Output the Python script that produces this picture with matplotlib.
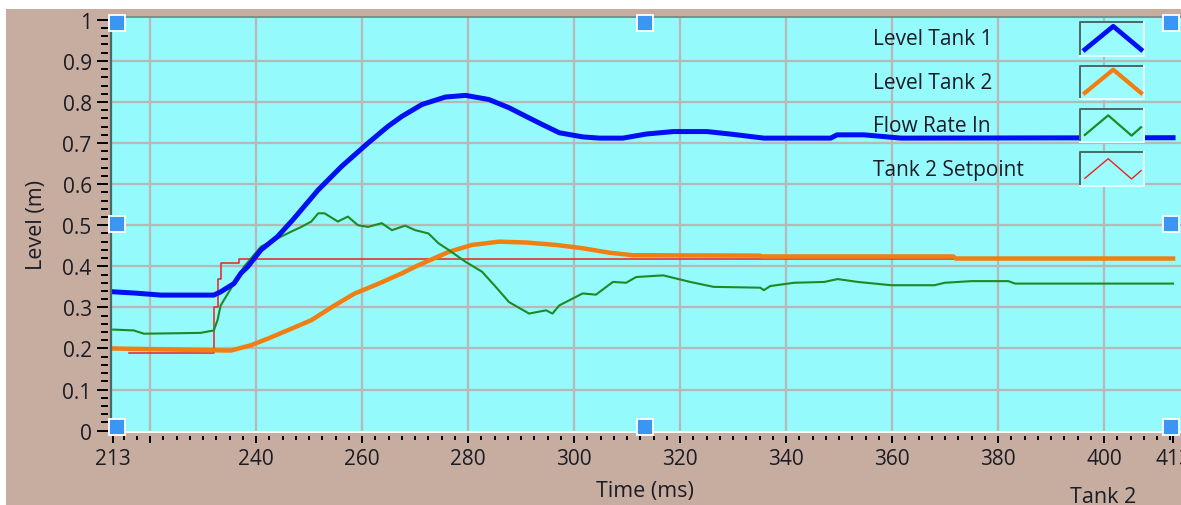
import numpy as np
import matplotlib.pyplot as plt
from matplotlib.patches import Rectangle
from matplotlib.lines import Line2D

# values (time in ms, level in m)
tank1_t = [213, 217, 222, 232, 233.3, 235.8, 237.1, 238.4, 240.9, 244,
           246.9, 251.7, 256.1, 261.1, 264.9, 267.5, 271.3, 275.7, 279.5, 283.9,
           287.7, 290.9, 294, 297.2, 301.6, 304.8, 309.2, 313.6, 318.7, 325,
           329.4, 335.8, 348.4, 349.6, 354.7, 361.7, 413]
tank1_v = [0.338, 0.335, 0.33, 0.33, 0.338, 0.358, 0.383, 0.399, 0.44, 0.472,
           0.513, 0.586, 0.643, 0.70, 0.741, 0.765, 0.794, 0.812, 0.816, 0.806,
           0.786, 0.765, 0.745, 0.725, 0.715, 0.712, 0.712, 0.722, 0.728, 0.728,
           0.722, 0.712, 0.712, 0.72, 0.72, 0.712, 0.713]

tank2_t = [213, 226, 235.2, 239, 242.2, 246.6, 250.4, 254.8, 258.6, 262.4,
           267.5, 270.3, 276.3, 280.7, 285.8, 290.9, 296.6, 301.6, 306.7, 311.1,
           335, 335.5, 371.5, 372, 413]
tank2_v = [0.2, 0.197, 0.195, 0.208, 0.224, 0.248, 0.269, 0.305, 0.334, 0.354,
           0.383, 0.401, 0.435, 0.452, 0.46, 0.458, 0.452, 0.444, 0.433, 0.427,
           0.426, 0.424, 0.424, 0.419, 0.419]

flow_t = [213, 216.9, 218.8, 229.5, 232, 232.7, 233.3, 235.8, 237.7, 240.9,
          245.9, 248.5, 250.4, 251.7, 252.9, 255.4, 257.3, 259.2, 261.1, 263.7,
          265.6, 268.1, 270, 272.5, 274.4, 276.3, 279.5, 282.6, 285.2, 287.7,
          291.5, 294.7, 295.9, 297.2, 301.6, 304.1, 307.3, 309.8, 311.7, 316.8,
          321.9, 326.3, 335.1, 335.8, 337, 341.5, 347.2, 349.7, 353.5, 359.8,
          368, 369.9, 375, 381.9, 383.2, 413]
flow_v = [0.246, 0.244, 0.236, 0.238, 0.244, 0.269, 0.305, 0.358, 0.399, 0.448,
          0.48, 0.496, 0.509, 0.529, 0.529, 0.509, 0.521, 0.50, 0.496, 0.505,
          0.488, 0.499, 0.488, 0.48, 0.456, 0.44, 0.411, 0.387, 0.35, 0.313,
          0.285, 0.293, 0.285, 0.305, 0.334, 0.331, 0.362, 0.36, 0.374, 0.378,
          0.362, 0.35, 0.348, 0.342, 0.352, 0.36, 0.362, 0.369, 0.362, 0.354,
          0.354, 0.36, 0.364, 0.364, 0.358, 0.358]

setpoint_t = [216, 232.1, 232.7, 233.3, 236.8, 413]
setpoint_v = [0.19, 0.30, 0.37, 0.408, 0.417, 0.417]

x_major = [213, 220, 240, 260, 280, 300, 320, 340, 360, 380, 400, 413]
x_labels = ["213", "", "240", "260", "280", "300", "320", "340", "360", "380", "400", "413"]
y_major = [0, 0.1, 0.2, 0.3, 0.4, 0.5, 0.6, 0.7, 0.8, 0.9, 1.0]
y_labels = ["0", "0.1", "0.2", "0.3", "0.4", "0.5", "0.6", "0.7", "0.8", "0.9", "1"]

TAN = "#c6ada0"
CYAN = "#94fafb"
GRID = "#b8b8b8"
TXT = "#1c1c26"
BLUE = "#0010f2"
ORANGE = "#f07e10"
GREEN = "#1d8a25"
RED = "#ef2020"

plt.rcParams["font.family"] = ["Open Sans", "DejaVu Sans"]

fig = plt.figure(figsize=(11.81, 5.06), dpi=100)
fig.patch.set_facecolor("white")
fig.add_artist(Rectangle((6 / 1181, 0), 1, 1 - 10 / 506, transform=fig.transFigure,
                         facecolor=TAN, edgecolor="none", zorder=-10))

ax = fig.add_axes([111 / 1181, 1 - 432.5 / 506, 1 - 111 / 1181, 415 / 506])
ax.set_facecolor(CYAN)
ax.set_xlim(212.6, 414.5)
ax.set_ylim(-0.002, 1.008)

# grid (no lines on the axis ends)
for gx in x_major[1:-1]:
    ax.axvline(gx, color=GRID, lw=1.6, zorder=0.5)
for gy in y_major[1:-1]:
    ax.axhline(gy, color=GRID, lw=1.6, zorder=0.5)

ax.plot(setpoint_t, setpoint_v, color=RED, lw=1.1, drawstyle="steps-post", zorder=2)
ax.plot(tank2_t, tank2_v, color=ORANGE, lw=3.2, zorder=3)
ax.plot(flow_t, flow_v, color=GREEN, lw=1.5, zorder=4)
ax.plot(tank1_t, tank1_v, color=BLUE, lw=3.6, zorder=5)

# ticks
ax.set_xticks(x_major, x_labels)
ax.set_xticks([m for m in np.arange(215, 413, 2.5) if m not in x_major], minor=True)
ax.set_yticks(y_major, y_labels)
ax.set_yticks([m for m in np.round(np.arange(0, 1.001, 0.02), 2) if m not in y_major], minor=True)
ax.tick_params(axis="y", which="major", length=7.9, width=1.4, pad=3.8, labelsize=15, labelcolor=TXT)
ax.tick_params(axis="y", which="minor", length=4.8, width=1.4)
ax.tick_params(axis="x", which="major", length=4.8, width=1.4, pad=4, labelsize=15, labelcolor=TXT)
ax.tick_params(axis="x", which="minor", length=2.9, width=1.4)

for s in ax.spines.values():
    s.set_visible(False)
ax.spines["left"].set_position(("outward", 2.2))
ax.spines["bottom"].set_position(("outward", 3))

# sunken frame
ax.add_line(Line2D([0, 0], [0, 1], transform=ax.transAxes, color="#4a6868", lw=1.6, clip_on=False, zorder=6))
ax.add_line(Line2D([0, 1], [1, 1], transform=ax.transAxes, color="#7c8e8e", lw=1.4, clip_on=False, zorder=6))
ax.add_line(Line2D([0, 1], [0, 0], transform=ax.transAxes, color="white", lw=1.4, clip_on=False, zorder=6))

ax.set_xlabel("Time (ms)", fontsize=15.5, color=TXT)
ax.xaxis.set_label_coords(0.499, -0.118)
ax.set_ylabel("Level (m)", fontsize=15.5, color=TXT)
ax.yaxis.set_label_coords(-0.06, 0.5)

fig.text(1103 / 1181, 3 / 506, "Tank 2", fontsize=15.5, color=TXT, ha="center", va="baseline")

# legend in LabVIEW style: label, then a small box with a zigzag sample
legend_items = [("Level Tank 1", BLUE, 3.4, "peak"),
                ("Level Tank 2", ORANGE, 3.0, "peak"),
                ("Flow Rate In", GREEN, 1.6, "wave"),
                ("Tank 2 Setpoint", RED, 1.0, "wave")]
shapes = {"peak": ([0.07, 0.52, 0.96], [0.18, 0.88, 0.18]),
          "wave": ([0.07, 0.44, 0.81, 0.96], [0.22, 0.81, 0.2, 0.45])}
bx0, bx1, bh = 0.906, 0.965, 0.08
for i, (label, color, lw, shape) in enumerate(legend_items):
    yc = 0.946 - i * 0.1045
    ax.text(0.712, yc, label, transform=ax.transAxes, fontsize=15, color=TXT,
            ha="left", va="center", zorder=8)
    y0, y1 = yc - bh / 2, yc + bh / 2
    ax.add_patch(Rectangle((bx0, y0), bx1 - bx0, bh, transform=ax.transAxes,
                           facecolor="#9afcfc", edgecolor="none", zorder=7))
    ax.add_line(Line2D([bx0, bx0, bx1], [y0, y1, y1], transform=ax.transAxes,
                       color="#4e6666", lw=1.4, zorder=8))
    ax.add_line(Line2D([bx0, bx1, bx1], [y0, y0, y1], transform=ax.transAxes,
                       color="#e6ffff", lw=1.4, zorder=8))
    xs, ys = shapes[shape]
    ax.add_line(Line2D([bx0 + x * (bx1 - bx0) for x in xs], [y0 + y * bh for y in ys],
                       transform=ax.transAxes, color=color, lw=lw, zorder=9))

# selection handles around the plot area
hx = [0.006, 0.499, 0.991, 0.006, 0.991, 0.006, 0.499, 0.991]
hy = [0.984, 0.984, 0.984, 0.5, 0.5, 0.011, 0.011, 0.011]
ax.plot(hx, hy, ls="none", marker="s", ms=11, mfc="#3b95f3", mec="white", mew=1.3,
        transform=ax.transAxes, clip_on=False, zorder=10)

plt.savefig("out.png", dpi=100, facecolor=fig.get_facecolor())
